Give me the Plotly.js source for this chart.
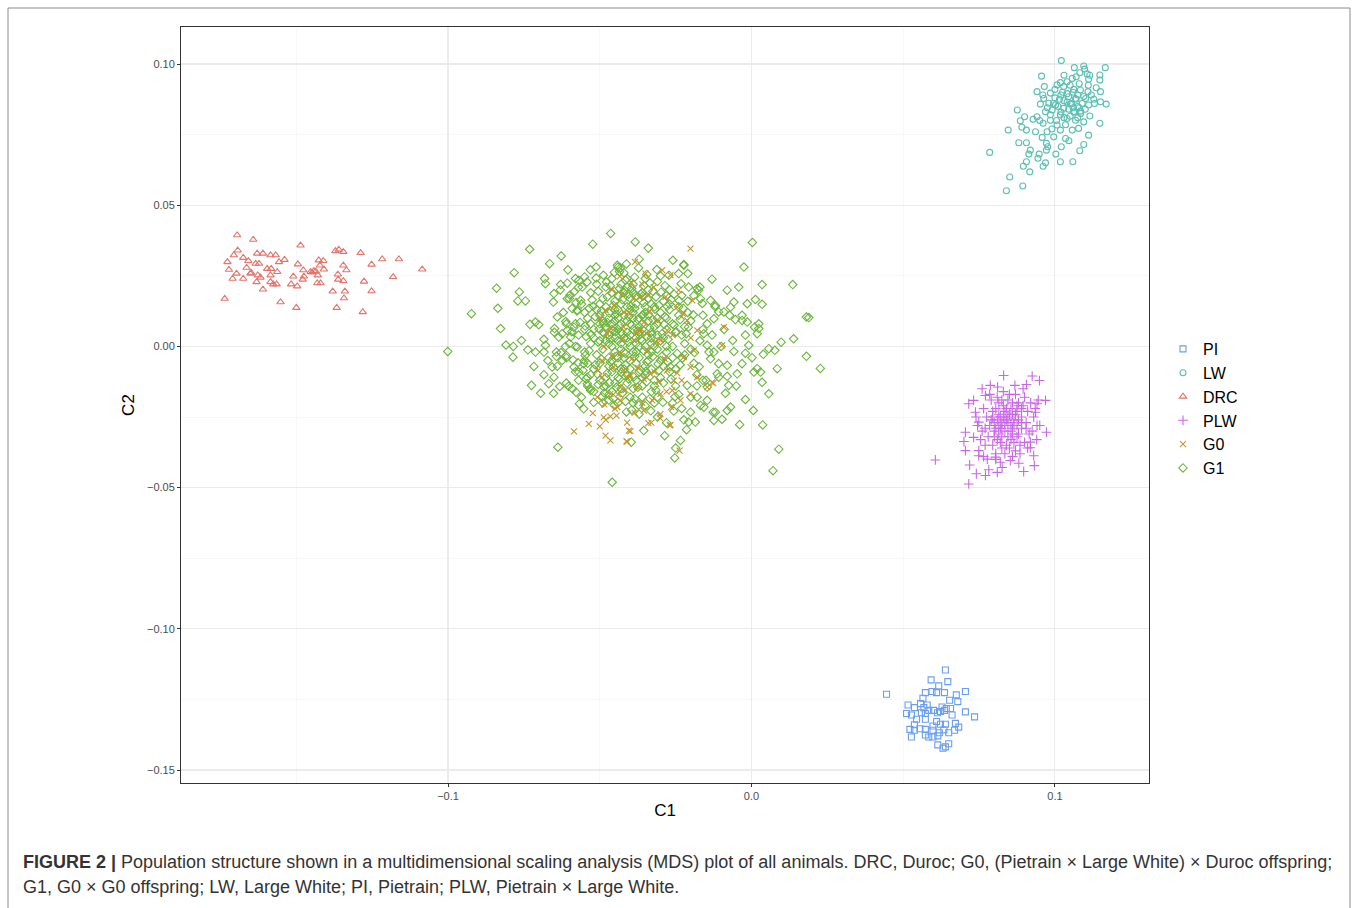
<!DOCTYPE html>
<html>
<head>
<meta charset="utf-8">
<script src="https://cdn.plot.ly/plotly-3.0.1.min.js"></script>
<style>html,body{margin:0;padding:0;background:#fff;}#chart{width:1357px;height:908px;}</style>
</head>
<body>
<div id="chart"></div>
<script>
// ---- Data (C1, C2) ----
const seriesNames = ["PI", "LW", "DRC", "PLW", "G0", "G1"];

const PI = [[0.0639,-0.1146],[0.0592,-0.1181],[0.0647,-0.1187],[0.0617,-0.1202],[0.0445,-0.1232],[0.0573,-0.1226],[0.0595,-0.1222],[0.0610,-0.1226],[0.0636,-0.1226],[0.0705,-0.1222],[0.0675,-0.1234],[0.0565,-0.1246],[0.0653,-0.1253],[0.0680,-0.1258],[0.0516,-0.1270],[0.0557,-0.1265],[0.0579,-0.1270],[0.0537,-0.1279],[0.0568,-0.1279],[0.0628,-0.1277],[0.0642,-0.1282],[0.0656,-0.1282],[0.0584,-0.1289],[0.0600,-0.1289],[0.0623,-0.1293],[0.0560,-0.1297],[0.0573,-0.1300],[0.0511,-0.1300],[0.0527,-0.1305],[0.0613,-0.1297],[0.0636,-0.1289],[0.0705,-0.1294],[0.0661,-0.1305],[0.0735,-0.1312],[0.0544,-0.1320],[0.0573,-0.1320],[0.0610,-0.1328],[0.0623,-0.1338],[0.0537,-0.1340],[0.0598,-0.1344],[0.0639,-0.1338],[0.0672,-0.1335],[0.0683,-0.1348],[0.0522,-0.1356],[0.0537,-0.1359],[0.0555,-0.1354],[0.0573,-0.1356],[0.0598,-0.1359],[0.0634,-0.1358],[0.0669,-0.1359],[0.0619,-0.1368],[0.0573,-0.1376],[0.0584,-0.1383],[0.0598,-0.1383],[0.0614,-0.1379],[0.0527,-0.1383],[0.0650,-0.1368],[0.0614,-0.1411],[0.0631,-0.1423],[0.0639,-0.1418],[0.0650,-0.1407]];

const LW = [[0.1021,0.1012],[0.1064,0.0987],[0.1095,0.0993],[0.1098,0.0982],[0.1166,0.0987],[0.1082,0.0969],[0.1106,0.0965],[0.1148,0.0961],[0.0956,0.0957],[0.1057,0.0949],[0.1111,0.0946],[0.1148,0.0943],[0.1018,0.0934],[0.1040,0.0937],[0.1007,0.0926],[0.1029,0.0920],[0.0965,0.0920],[0.1136,0.0916],[0.1062,0.0910],[0.1084,0.0908],[0.1109,0.0902],[0.0941,0.0902],[0.1150,0.0902],[0.0985,0.0897],[0.1020,0.0890],[0.1045,0.0884],[0.1068,0.0878],[0.1101,0.0878],[0.1128,0.0875],[0.0963,0.0878],[0.1150,0.0866],[0.1169,0.0858],[0.0952,0.0858],[0.0980,0.0861],[0.1002,0.0855],[0.1051,0.0858],[0.1075,0.0849],[0.1111,0.0855],[0.1029,0.0843],[0.0991,0.0837],[0.0969,0.0831],[0.1062,0.0831],[0.1084,0.0833],[0.0876,0.0837],[0.1115,0.0816],[0.1018,0.0820],[0.0941,0.0813],[0.0900,0.0813],[0.0985,0.0801],[0.1040,0.0807],[0.1068,0.0801],[0.1095,0.0795],[0.0886,0.0799],[0.0928,0.0804],[0.0961,0.0790],[0.1007,0.0784],[0.1148,0.0790],[0.0891,0.0776],[0.0906,0.0766],[0.0846,0.0766],[0.0936,0.0760],[0.0974,0.0760],[0.1018,0.0766],[0.1057,0.0766],[0.1078,0.0772],[0.1111,0.0748],[0.0958,0.0740],[0.0996,0.0742],[0.1035,0.0736],[0.1046,0.0728],[0.0881,0.0721],[0.0906,0.0721],[0.0972,0.0719],[0.1095,0.0715],[0.0976,0.0707],[0.1021,0.0707],[0.0785,0.0687],[0.0919,0.0695],[0.0972,0.0695],[0.0948,0.0681],[0.0914,0.0681],[0.1003,0.0681],[0.1082,0.0693],[0.0944,0.0666],[0.0906,0.0654],[0.1018,0.0654],[0.1059,0.0654],[0.0969,0.0650],[0.0896,0.0638],[0.0961,0.0638],[0.0917,0.0618],[0.0851,0.0600],[0.0894,0.0568],[0.0840,0.0551],
[0.1000,0.0880],[0.1030,0.0870],[0.1055,0.0860],[0.1075,0.0890],[0.1010,0.0850],[0.1045,0.0840],[0.1090,0.0860],[0.1065,0.0830],[0.1020,0.0830],[0.0995,0.0860],[0.1040,0.0895],[0.1080,0.0845],[0.1050,0.0815],[0.1030,0.0810],[0.0985,0.0820],[0.1070,0.0875],[0.1060,0.0900],[0.1095,0.0885],[0.1025,0.0900],[0.1005,0.0800],[0.1085,0.0825],[0.1040,0.0865],[0.1060,0.0845],[0.1015,0.0875],[0.1100,0.0840],[0.0975,0.0845],[0.1035,0.0785],[0.1075,0.0810],[0.1000,0.0910],[0.1050,0.0925],[0.1080,0.0930],[0.1110,0.0925],[0.1120,0.0890],[0.1130,0.0860],[0.1115,0.0960],[0.1070,0.0955],[0.1030,0.0960],[0.0960,0.0890],[0.0950,0.0800],[0.0990,0.0770]];

const DRC = [[-0.1695,0.0394],[-0.1642,0.0378],[-0.1486,0.0358],[-0.1693,0.0340],[-0.1706,0.0323],[-0.1629,0.0329],[-0.1610,0.0329],[-0.1585,0.0323],[-0.1568,0.0323],[-0.1539,0.0307],[-0.1675,0.0314],[-0.1658,0.0303],[-0.1727,0.0299],[-0.1557,0.0299],[-0.1634,0.0293],[-0.1623,0.0293],[-0.1664,0.0279],[-0.1596,0.0275],[-0.1583,0.0275],[-0.1722,0.0272],[-0.1495,0.0291],[-0.1563,0.0264],[-0.1651,0.0258],[-0.1697,0.0258],[-0.1627,0.0252],[-0.1585,0.0252],[-0.1618,0.0244],[-0.1710,0.0240],[-0.1675,0.0240],[-0.1631,0.0228],[-0.1585,0.0228],[-0.1576,0.0220],[-0.1565,0.0220],[-0.1517,0.0220],[-0.1497,0.0213],[-0.1510,0.0248],[-0.1477,0.0270],[-0.1475,0.0248],[-0.1610,0.0202],[-0.1736,0.0169],[-0.1552,0.0157],[-0.1500,0.0137],[-0.1453,0.0264],[-0.1442,0.0267],[-0.1448,0.0262],[-0.1436,0.0266],[-0.1426,0.0305],[-0.1411,0.0303],[-0.1422,0.0287],[-0.1409,0.0273],[-0.1429,0.0252],[-0.1431,0.0224],[-0.1420,0.0224],[-0.1371,0.0338],[-0.1360,0.0343],[-0.1345,0.0335],[-0.1288,0.0331],[-0.1345,0.0287],[-0.1335,0.0270],[-0.1363,0.0255],[-0.1362,0.0237],[-0.1345,0.0232],[-0.1277,0.0230],[-0.1380,0.0195],[-0.1340,0.0195],[-0.1343,0.0171],[-0.1367,0.0137],[-0.1281,0.0122],[-0.1252,0.0196],[-0.1252,0.0290],[-0.1217,0.0309],[-0.1181,0.0246],[-0.1162,0.0309],[-0.1085,0.0273],[-0.1479,0.0237],[-0.1649,0.0261]];

const PLW = [[0.0831,-0.0103],[0.0925,-0.0105],[0.0949,-0.0121],[0.0906,-0.0135],[0.0868,-0.0138],[0.0787,-0.0138],[0.0760,-0.0150],[0.0811,-0.0144],[0.0771,-0.0174],[0.0732,-0.0191],[0.0716,-0.0203],[0.0969,-0.0191],[0.0941,-0.0203],[0.0738,-0.0233],[0.0936,-0.0233],[0.0749,-0.0268],[0.0941,-0.0280],[0.0972,-0.0304],[0.0705,-0.0304],[0.0732,-0.0322],[0.0700,-0.0337],[0.0919,-0.0339],[0.0705,-0.0369],[0.0749,-0.0369],[0.0919,-0.0359],[0.0606,-0.0402],[0.0749,-0.0387],[0.0777,-0.0399],[0.0804,-0.0392],[0.0930,-0.0387],[0.0820,-0.0410],[0.0881,-0.0414],[0.0719,-0.0420],[0.0932,-0.0422],[0.0782,-0.0437],[0.0810,-0.0446],[0.0771,-0.0457],[0.0897,-0.0443],[0.0741,-0.0451],[0.0716,-0.0487],[0.0826,-0.0429],[0.0853,-0.0404],
[0.0840,-0.0260],[0.0815,-0.0240],[0.0860,-0.0290],[0.0800,-0.0300],[0.0875,-0.0230],[0.0830,-0.0210],[0.0790,-0.0260],[0.0855,-0.0330],[0.0905,-0.0270],[0.0770,-0.0290],[0.0880,-0.0310],[0.0820,-0.0340],[0.0845,-0.0190],[0.0895,-0.0210],[0.0765,-0.0220],[0.0810,-0.0180],[0.0925,-0.0300],[0.0870,-0.0170],[0.0795,-0.0350],[0.0835,-0.0300],[0.0850,-0.0240],[0.0825,-0.0270],[0.0865,-0.0260],[0.0805,-0.0220],[0.0890,-0.0250],[0.0780,-0.0320],[0.0910,-0.0230],[0.0840,-0.0350],[0.0860,-0.0200],[0.0815,-0.0310],[0.0745,-0.0280],[0.0930,-0.0250],[0.0885,-0.0350],[0.0755,-0.0330],[0.0900,-0.0180],[0.0790,-0.0190],[0.0940,-0.0330],[0.0830,-0.0160],[0.0870,-0.0370],[0.0805,-0.0380],[0.0845,-0.0280],[0.0820,-0.0250],[0.0855,-0.0220],[0.0835,-0.0230],[0.0875,-0.0280],[0.0800,-0.0270],[0.0860,-0.0310],[0.0825,-0.0290],[0.0890,-0.0290],[0.0810,-0.0330],[0.0850,-0.0170],[0.0880,-0.0200],[0.0775,-0.0250],[0.0915,-0.0310],[0.0795,-0.0230],[0.0865,-0.0340],[0.0835,-0.0380],[0.0900,-0.0340],[0.0760,-0.0300],[0.0920,-0.0200],[0.0815,-0.0200],[0.0895,-0.0150],[0.0785,-0.0170],[0.0935,-0.0220],[0.0845,-0.0320],[0.0870,-0.0240],[0.0830,-0.0250],[0.0855,-0.0270],[0.0810,-0.0260],[0.0880,-0.0260],[0.0840,-0.0220],[0.0820,-0.0290],[0.0860,-0.0240],[0.0800,-0.0320],[0.0905,-0.0290],[0.0785,-0.0280],[0.0875,-0.0320],[0.0825,-0.0190],[0.0850,-0.0360],[0.0890,-0.0220],[0.0770,-0.0350],[0.0950,-0.0280],[0.0740,-0.0250],[0.0945,-0.0190],[0.0805,-0.0400],[0.0860,-0.0390],[0.0825,-0.0360],[0.0910,-0.0360],[0.0765,-0.0390],[0.0885,-0.0380],[0.0835,-0.0270],[0.0865,-0.0280],[0.0815,-0.0280],[0.0845,-0.0250],[0.0855,-0.0300],[0.0795,-0.0250],[0.0875,-0.0210],[0.0825,-0.0320],[0.0890,-0.0270],[0.0805,-0.0290]];

const G0 = [[-0.0434,0.0248],[-0.0426,0.0187],[-0.0585,-0.0301],[-0.0536,-0.0274],[-0.0500,-0.0283],[-0.0481,-0.0316],[-0.0465,-0.0333],[-0.0523,-0.0236],[-0.0487,-0.0251],[-0.0465,-0.0248],[-0.0508,-0.0180],[-0.0492,-0.0109],[-0.0492,-0.0050],[-0.0487,-0.0002],[-0.0476,0.0045],[-0.0481,0.0128],[-0.0454,0.0145],[-0.0410,-0.0337],[-0.0404,-0.0298],[-0.0442,-0.0215],[-0.0432,-0.0144],[-0.0421,-0.0085],[-0.0459,-0.0032],[-0.0201,0.0346],[-0.0384,0.0299],[-0.0349,0.0258],[-0.0294,0.0270],[-0.0267,0.0252],[-0.0240,0.0199],[-0.0195,0.0163],[-0.0091,0.0068],[-0.0097,0.0004],[-0.0130,-0.0127],[-0.0237,-0.0369],[-0.0269,-0.0280],[-0.0302,-0.0253],[-0.0340,-0.0272],[-0.0399,-0.0300],[-0.0412,-0.0336],[-0.0355,-0.0227],[-0.0327,-0.0191],[-0.0300,-0.0168],[-0.0261,-0.0156],[-0.0234,-0.0191],[-0.0201,-0.0168],[-0.0179,-0.0109],[-0.0201,-0.0073],[-0.0223,-0.0038],[-0.0190,-0.0014],[-0.0179,0.0057],[-0.0212,0.0092],[-0.0245,0.0139],[-0.0283,0.0175],[-0.0322,0.0210],[-0.0366,0.0175],[-0.0399,0.0116],[-0.0421,0.0068],[-0.0388,0.0021],[-0.0344,-0.0014],[-0.0300,0.0021],[-0.0278,0.0057],[-0.0311,0.0092],[-0.0366,0.0057],[-0.0432,-0.0026],[-0.0454,-0.0073],[-0.0410,-0.0109],[-0.0377,-0.0144],[-0.0333,-0.0097],[-0.0278,-0.0085],[-0.0256,-0.0121],[-0.0465,-0.0168],[-0.0432,-0.0191],[-0.0126,-0.0130],[-0.0146,-0.0144],[-0.0267,-0.0278],
[-0.0400,-0.0100],[-0.0360,-0.0200],[-0.0450,-0.0220],[-0.0300,-0.0240],[-0.0380,0.0050],[-0.0420,0.0120],[-0.0340,0.0180],[-0.0280,-0.0160],[-0.0440,-0.0170],[-0.0320,-0.0090],[-0.0480,-0.0260],[-0.0260,0.0040],[-0.0410,-0.0270],[-0.0360,0.0220],[-0.0500,0.0100],[-0.0230,-0.0120],[-0.0330,-0.0270],[-0.0460,0.0200],[-0.0200,0.0030],[-0.0390,0.0170],
[-0.0395,-0.0045],[-0.0355,0.0085],[-0.0425,0.0025],[-0.0305,-0.0125],[-0.0465,0.0065],[-0.0375,-0.0075],[-0.0335,0.0125],[-0.0285,-0.0045],[-0.0445,-0.0245],[-0.0385,-0.0235],[-0.0315,0.0015],[-0.0245,-0.0095],[-0.0415,-0.0155],[-0.0355,-0.0115],[-0.0485,-0.0205],[-0.0265,-0.0215],[-0.0225,0.0115],[-0.0395,0.0225],[-0.0505,-0.0085],[-0.0345,0.0045]];

const G1 = [
// periphery
[-0.0464,0.0400],[-0.0523,0.0362],[-0.0731,0.0344],[-0.0627,0.0320],[-0.0665,0.0293],[-0.0782,0.0261],[-0.0605,0.0271],[-0.0531,0.0271],[-0.0512,0.0281],[-0.0840,0.0206],[-0.0765,0.0193],[-0.0770,0.0161],[-0.0745,0.0161],[-0.0836,0.0135],[-0.0923,0.0116],[-0.0827,0.0063],[-0.0730,0.0078],[-0.0712,0.0086],[-0.0701,0.0077],[-0.1001,-0.0018],[-0.0809,0.0005],[-0.0785,0.0000],[-0.0786,-0.0038],[-0.0758,0.0021],[-0.0737,-0.0012],[-0.0717,-0.0071],[-0.0712,-0.0020],[-0.0684,0.0025],[-0.0679,0.0004],[-0.0684,-0.0020],[-0.0671,-0.0050],[-0.0657,-0.0073],[-0.0684,-0.0100],[-0.0651,-0.0109],[-0.0668,-0.0132],[-0.0725,-0.0138],[-0.0695,-0.0166],[-0.0652,-0.0166],[-0.0632,-0.0142],[-0.0603,-0.0141],[-0.0578,-0.0162],[-0.0643,-0.0020],[-0.0643,-0.0035],[-0.0624,-0.0050],[-0.0610,-0.0032],[-0.0613,0.0000],[-0.0635,0.0033],[-0.0649,0.0063],[-0.0640,0.0104],[-0.0653,0.0157],[-0.0651,0.0187],[-0.0679,0.0222],[-0.0682,0.0240],[-0.0629,0.0219],[-0.0607,0.0224],[-0.0607,0.0169],[-0.0585,0.0193],[-0.0591,0.0134],[-0.0574,0.0128],[-0.0563,0.0163],[-0.0569,0.0234],[-0.0550,0.0246],[-0.0558,0.0210],[-0.0638,-0.0357],[-0.0459,-0.0481],[-0.0624,0.0045],[-0.0607,0.0057],[-0.0596,0.0033],[-0.0585,0.0068],[-0.0574,-0.0002],[-0.0585,-0.0073],[-0.0569,-0.0091],[-0.0553,-0.0061],[-0.0541,-0.0109],[-0.0541,-0.0132],[-0.0530,-0.0156],[-0.0567,-0.0203],[-0.0553,-0.0221],[-0.0520,-0.0198],[-0.0487,-0.0144],
[-0.0383,0.0370],[-0.0340,0.0348],[-0.0370,0.0309],[-0.0442,0.0287],[-0.0432,0.0278],[-0.0259,0.0305],[-0.0223,0.0290],[-0.0240,0.0258],[-0.0210,0.0258],[0.0003,0.0368],[-0.0025,0.0281],[-0.0130,0.0238],[0.0035,0.0219],[0.0136,0.0219],[-0.0042,0.0210],[-0.0080,0.0199],[0.0013,0.0166],[0.0035,0.0149],[-0.0014,0.0151],[-0.0058,0.0157],[-0.0069,0.0139],[-0.0091,0.0122],[-0.0031,0.0110],[-0.0053,0.0095],[-0.0014,0.0086],[0.0181,0.0104],[0.0189,0.0102],[0.0024,0.0080],[0.0010,0.0068],[0.0024,0.0063],[0.0019,0.0045],[0.0139,0.0027],[0.0098,0.0015],[-0.0062,0.0021],[-0.0009,0.0004],[0.0057,-0.0008],[0.0077,-0.0014],[-0.0058,-0.0018],[-0.0020,-0.0024],[0.0039,-0.0028],[0.0002,-0.0040],[0.0181,-0.0035],[0.0227,-0.0078],[0.0085,-0.0079],[-0.0031,-0.0061],[0.0019,-0.0079],[0.0008,-0.0091],[-0.0047,-0.0097],[-0.0080,-0.0106],[0.0035,-0.0127],[-0.0075,-0.0138],[-0.0086,-0.0166],[0.0057,-0.0168],[-0.0020,-0.0188],[-0.0069,-0.0215],[-0.0080,-0.0227],[0.0006,-0.0227],[-0.0119,-0.0233],[-0.0124,-0.0262],[-0.0097,-0.0258],[-0.0039,-0.0277],[0.0037,-0.0278],[-0.0185,-0.0268],[-0.0207,-0.0268],[-0.0223,-0.0260],[-0.0214,-0.0295],[-0.0286,-0.0316],[-0.0234,-0.0333],[-0.0253,-0.0395],[0.0090,-0.0364],[0.0071,-0.0440],[-0.0396,-0.0339],[-0.0355,-0.0298],[-0.0201,-0.0233],[-0.0168,-0.0209],[-0.0146,-0.0191],[-0.0179,-0.0180],[-0.0146,-0.0144],[-0.0113,-0.0097],[-0.0108,-0.0061],[-0.0124,-0.0020],[-0.0146,0.0004],[-0.0157,0.0045],[-0.0146,0.0080],[-0.0124,0.0098],[-0.0119,0.0145],[-0.0135,0.0163],[-0.0168,0.0169],[-0.0179,0.0205],[-0.0207,0.0210],
[-0.0223,0.0287],[-0.0174,0.0199],[-0.0108,0.0122],[-0.0072,0.0110],[-0.0031,0.0092],[-0.0135,-0.0044],[-0.0080,-0.0067],[0.0030,-0.0091],[-0.0108,-0.0109],[-0.0126,-0.0233],[-0.0157,-0.0215],[-0.0256,-0.0229],[-0.0020,0.0040],[-0.0100,0.0000],[-0.0160,-0.0120],[-0.0050,-0.0140],[-0.0090,0.0060],[-0.0250,-0.0360],[-0.0310,-0.0250],[-0.0280,-0.0270],
// core
[-0.041,0.003],[-0.038,-0.002],[-0.044,0.006],[-0.036,0.008],[-0.047,-0.004],[-0.033,0.001],[-0.042,-0.008],[-0.039,0.012],[-0.050,0.002],[-0.030,-0.005],
[-0.045,0.011],[-0.035,-0.010],[-0.053,0.008],[-0.028,0.006],[-0.040,0.017],[-0.048,-0.011],[-0.032,0.014],[-0.043,-0.015],[-0.055,-0.002],[-0.026,0.000],
[-0.037,0.004],[-0.046,0.000],[-0.034,-0.003],[-0.041,0.009],[-0.049,0.005],[-0.031,0.010],[-0.044,-0.006],[-0.038,-0.012],[-0.052,-0.008],[-0.027,-0.009],
[-0.036,0.019],[-0.045,0.016],[-0.029,0.016],[-0.051,0.013],[-0.024,0.011],[-0.040,-0.018],[-0.033,-0.016],[-0.047,-0.019],[-0.057,0.004],[-0.022,-0.003],
[-0.039,0.022],[-0.048,0.021],[-0.031,0.023],[-0.056,0.015],[-0.021,0.016],[-0.042,0.026],[-0.035,-0.021],[-0.054,-0.014],[-0.025,-0.014],[-0.058,-0.009],
[-0.043,0.001],[-0.037,0.007],[-0.040,-0.005],[-0.046,0.008],[-0.033,0.005],[-0.049,-0.001],[-0.030,0.002],[-0.044,0.013],[-0.035,-0.007],[-0.052,0.003],
[-0.028,-0.002],[-0.041,-0.010],[-0.038,0.015],[-0.047,0.004],[-0.032,-0.012],[-0.054,0.010],[-0.026,0.008],[-0.045,-0.013],[-0.036,0.011],[-0.050,-0.006],
[-0.023,0.004],[-0.042,0.019],[-0.034,0.017],[-0.048,0.014],[-0.029,-0.007],[-0.055,0.006],[-0.020,0.009],[-0.039,-0.015],[-0.044,-0.020],[-0.031,-0.018],
[-0.060,0.001],[-0.019,-0.006],[-0.046,0.024],[-0.027,0.020],[-0.053,0.019],[-0.037,-0.024],[-0.024,-0.017],[-0.057,-0.012],[-0.017,0.002],[-0.041,0.024],
[-0.040,0.000],[-0.043,0.005],[-0.036,0.002],[-0.038,-0.006],[-0.045,-0.002],[-0.034,0.009],[-0.047,0.010],[-0.031,-0.001],[-0.042,-0.004],[-0.039,0.006],
[-0.051,-0.003],[-0.029,0.003],[-0.044,0.002],[-0.035,0.012],[-0.048,0.007],[-0.032,0.007],[-0.043,-0.008],[-0.037,-0.009],[-0.053,0.001],[-0.025,0.005],
[-0.046,-0.009],[-0.033,-0.008],[-0.050,0.011],[-0.027,0.013],[-0.040,0.013],[-0.044,0.018],[-0.030,-0.011],[-0.055,-0.005],[-0.022,0.001],[-0.041,-0.013],
[-0.035,0.024],[-0.049,0.017],[-0.028,0.018],[-0.058,0.008],[-0.021,0.012],[-0.046,-0.016],[-0.032,-0.020],[-0.052,-0.016],[-0.018,-0.010],[-0.061,-0.004],
[-0.042,0.011],[-0.037,0.000],[-0.045,0.003],[-0.034,-0.005],[-0.040,0.008],[-0.047,-0.007],[-0.030,0.012],[-0.043,0.015],[-0.036,-0.014],[-0.050,0.008],
[-0.026,-0.004],[-0.039,0.019],[-0.048,0.002],[-0.033,0.015],[-0.044,-0.011],[-0.038,0.003],[-0.053,-0.010],[-0.024,0.014],[-0.041,0.005],[-0.035,0.000],
[-0.016,0.006],[-0.014,-0.002],[-0.019,0.018],[-0.015,-0.012],[-0.020,-0.018],[-0.012,0.014],[-0.017,0.021],[-0.023,-0.022],[-0.013,0.004],[-0.018,-0.014],
[-0.062,0.012],[-0.059,-0.015],[-0.063,0.020],[-0.060,0.017],[-0.064,-0.007],[-0.058,0.024],[-0.061,-0.013],[-0.056,-0.018],[-0.065,0.005],[-0.057,0.021],
[-0.039,0.010],[-0.045,0.013],[-0.033,0.003],[-0.042,-0.002],[-0.037,-0.004],[-0.049,0.009],[-0.031,0.008],[-0.046,0.006],[-0.040,-0.008],[-0.035,0.014],
[-0.052,0.006],[-0.028,0.010],[-0.044,-0.004],[-0.038,0.018],[-0.048,-0.014],[-0.032,-0.014],[-0.055,0.012],[-0.025,-0.008],[-0.041,0.021],[-0.036,-0.018],
[-0.050,0.015],[-0.027,0.015],[-0.046,0.019],[-0.029,-0.013],[-0.054,-0.006],[-0.022,0.007],[-0.043,0.008],[-0.034,0.020],[-0.047,-0.017],[-0.039,-0.020],
[-0.020,-0.001],[-0.058,0.000],[-0.023,0.018],[-0.051,0.022],[-0.030,0.025],[-0.044,0.028],[-0.026,-0.020],[-0.049,-0.020],[-0.016,0.011],[-0.061,0.008],
[-0.040,0.004],[-0.036,0.006],[-0.043,-0.001],[-0.038,0.001],[-0.045,0.009],[-0.033,-0.002],[-0.041,0.014],[-0.047,0.001],[-0.031,0.004],[-0.037,0.010],
[-0.034,0.011],[-0.042,0.003],[-0.039,-0.002],[-0.046,-0.005],[-0.032,0.000],[-0.044,0.010],[-0.036,-0.011],[-0.050,-0.012],[-0.028,0.000],[-0.043,0.022],
[-0.0405,0.0015],[-0.0375,0.0055],[-0.0435,0.0075],[-0.0355,-0.0015],[-0.0465,0.0025],[-0.0325,0.0095],[-0.0415,-0.0065],[-0.0385,0.0135],[-0.0495,-0.0045],[-0.0295,0.0045],
[-0.0455,0.0145],[-0.0345,-0.0125],[-0.0515,0.0105],[-0.0275,-0.0055],[-0.0395,0.0205],[-0.0475,-0.0095],[-0.0315,0.0175],[-0.0425,-0.0165],[-0.0535,-0.0015],[-0.0255,0.0075],
[-0.0365,0.0025],[-0.0445,-0.0035],[-0.0335,0.0065],[-0.0405,0.0105],[-0.0485,0.0045],[-0.0305,-0.0085],[-0.0435,-0.0115],[-0.0375,-0.0145],[-0.0525,0.0165],[-0.0265,0.0165],
[-0.0355,0.0215],[-0.0455,-0.0185],[-0.0285,0.0215],[-0.0505,-0.0135],[-0.0235,-0.0065],[-0.0415,0.0235],[-0.0345,0.0255],[-0.0545,0.0035],[-0.0225,0.0135],[-0.0395,-0.0225],
[-0.0385,-0.0035],[-0.0425,0.0045],[-0.0345,0.0035],[-0.0395,0.0075],[-0.0465,-0.0055],[-0.0325,-0.0035],[-0.0445,0.0115],[-0.0365,-0.0085],[-0.0505,0.0015],[-0.0285,0.0105],
[-0.0475,0.0175],[-0.0315,-0.0155],[-0.0535,0.0135],[-0.0245,-0.0025],[-0.0405,0.0185],[-0.0485,-0.0165],[-0.0335,0.0225],[-0.0435,0.0205],[-0.0565,0.0085],[-0.0215,0.0045],
[-0.0375,0.0095],[-0.0455,0.0055],[-0.0355,0.0155],[-0.0415,-0.0025],[-0.0495,0.0125],[-0.0305,0.0145],[-0.0445,-0.0145],[-0.0385,-0.0185],[-0.0555,-0.0085],[-0.0265,-0.0115],
[-0.0425,0.0165],[-0.0365,0.0185],[-0.0475,0.0085],[-0.0325,0.0195],[-0.0515,-0.0065],[-0.0295,-0.0035],[-0.0455,-0.0075],[-0.0345,-0.0055],[-0.0405,-0.0115],[-0.0385,0.0245],
[-0.0435,0.0265],[-0.0505,0.0195],[-0.0275,0.0025],[-0.0545,-0.0115],[-0.0235,0.0095],[-0.0415,-0.0195],[-0.0335,-0.0185],[-0.0465,0.0215],[-0.0255,0.0185],[-0.0575,0.0125],
[-0.0598,0.0182],[-0.0542,0.0228],[-0.0488,0.0252],[-0.0612,0.0088],[-0.0578,0.0155],[-0.0522,0.0142],[-0.0468,0.0118],[-0.0592,0.0052],[-0.0548,0.0072],[-0.0502,0.0062],
[-0.0438,0.0178],[-0.0398,0.0142],[-0.0358,0.0112],[-0.0318,0.0132],[-0.0278,0.0142],[-0.0238,0.0162],[-0.0298,0.0192],[-0.0358,0.0178],[-0.0418,0.0198],[-0.0478,0.0228],
[-0.0628,-0.0022],[-0.0588,-0.0048],[-0.0548,-0.0032],[-0.0508,-0.0098],[-0.0468,-0.0128],[-0.0428,-0.0092],[-0.0388,-0.0108],[-0.0348,-0.0088],[-0.0308,-0.0062],[-0.0268,-0.0072],
[-0.0228,-0.0042],[-0.0188,-0.0022],[-0.0208,0.0068],[-0.0248,0.0052],[-0.0288,0.0078],[-0.0328,0.0042],[-0.0368,0.0052],[-0.0448,0.0052],[-0.0488,0.0082],[-0.0528,0.0042],
[-0.0572,-0.0058],[-0.0532,-0.0148],[-0.0492,-0.0178],[-0.0452,-0.0208],[-0.0412,-0.0232],[-0.0372,-0.0208],[-0.0332,-0.0228],[-0.0292,-0.0198],[-0.0252,-0.0178],[-0.0212,-0.0138],
[-0.0172,-0.0072],[-0.0162,0.0152],[-0.0192,0.0112],[-0.0232,0.0222],[-0.0272,0.0252],[-0.0312,0.0272],[-0.0372,0.0278],[-0.0412,0.0292],[-0.0452,0.0262],[-0.0512,0.0242]];

const seriesData = {PI: PI, LW: LW, DRC: DRC, PLW: PLW, G0: G0, G1: G1};
const seriesColors = {PI: "#6A9EF0", LW: "#5DBFB4", DRC: "#E5736B", PLW: "#C966E8", G0: "#C4952C", G1: "#6BB53D"};
const seriesSymbols = {PI: "square-open", LW: "circle-open", DRC: "triangle-up-open", PLW: "cross-thin-open", G0: "x-thin-open", G1: "diamond-open"};
const seriesSizes = {PI: 6, LW: 6, DRC: 6.5, PLW: 7, G0: 6, G1: 6.5};
const drawOrder = ["PI", "LW", "DRC", "PLW", "G1", "G0"];

const traces = drawOrder.map(function (name) {
  const pts = seriesData[name];
  return {
    type: "scatter",
    mode: "markers",
    name: name,
    legendrank: seriesNames.indexOf(name) + 1,
    x: pts.map(function (p) { return p[0]; }),
    y: pts.map(function (p) { return p[1]; }),
    marker: {symbol: seriesSymbols[name], size: seriesSizes[name], color: seriesColors[name],
             line: {width: 1.1, color: seriesColors[name]}},
    hoverinfo: "skip"
  };
});

// px -> paper helpers for decoration placement only
const L = 181, R = 1149, T = 27, B = 783;
function px(x) { return (x - L) / (R - L); }
function py(y) { return (B - y) / (B - T); }

const layout = {
  width: 1357, height: 908,
  margin: {l: L, r: 1357 - R, t: T, b: 908 - B},
  paper_bgcolor: "#ffffff", plot_bgcolor: "#ffffff",
  font: {family: "Liberation Sans, Arial, sans-serif", color: "#000"},
  showlegend: true,
  legend: {x: px(1163), y: py(332), xanchor: "left", yanchor: "top", font: {size: 16, color: "#000"},
           tracegroupgap: 0, itemwidth: 30, bgcolor: "rgba(0,0,0,0)"},
  xaxis: {
    range: [-0.188, 0.131], tickmode: "array", tickvals: [-0.1, 0, 0.1], ticktext: ["\u22120.1", "0.0", "0.1"],
    showgrid: true, gridcolor: "#EBEBEB", gridwidth: 1.1, zeroline: false,
    minor: {tickvals: [-0.15, -0.05, 0.05], showgrid: true, gridcolor: "#F3F3F3", gridwidth: 0.6, ticks: ""},
    showline: true, mirror: true, linecolor: "#333333", linewidth: 1,
    ticks: "outside", ticklen: 3, tickcolor: "#333333", tickwidth: 1,
    tickfont: {size: 11, color: "#4D4D4D"},
    title: {text: "C1", font: {size: 17, color: "#000"}, standoff: 2}
  },
  yaxis: {
    range: [-0.1546, 0.1131], tickmode: "array", tickvals: [-0.15, -0.1, -0.05, 0, 0.05, 0.1],
    ticktext: ["\u22120.15", "\u22120.10", "\u22120.05", "0.00", "0.05", "0.10"],
    showgrid: true, gridcolor: "#EBEBEB", gridwidth: 1.1, zeroline: false,
    minor: {tickvals: [-0.125, -0.075, -0.025, 0.025, 0.075], showgrid: true, gridcolor: "#F3F3F3", gridwidth: 0.6, ticks: ""},
    showline: true, mirror: true, linecolor: "#333333", linewidth: 1,
    ticks: "outside", ticklen: 3, tickcolor: "#333333", tickwidth: 1,
    tickfont: {size: 11, color: "#4D4D4D"},
    title: {text: "C2", font: {size: 17, color: "#000"}, standoff: 8}
  },
  shapes: [
    {type: "rect", xref: "paper", yref: "paper", x0: px(8), x1: px(1350), y0: py(8), y1: py(940),
     line: {color: "#8A8A8A", width: 1}, fillcolor: "rgba(0,0,0,0)", layer: "below"}
  ],
  annotations: [
    {xref: "paper", yref: "paper", x: px(21), y: py(862), xanchor: "left", yanchor: "middle", showarrow: false, align: "left",
     font: {size: 18, color: "#333333", family: "Liberation Sans, Arial, sans-serif"},
     text: "<b>FIGURE 2 |</b> Population structure shown in a multidimensional scaling analysis (MDS) plot of all animals. DRC, Duroc; G0, (Pietrain \u00d7 Large White) \u00d7 Duroc offspring;"},
    {xref: "paper", yref: "paper", x: px(21), y: py(887), xanchor: "left", yanchor: "middle", showarrow: false, align: "left",
     font: {size: 18, color: "#333333", family: "Liberation Sans, Arial, sans-serif"},
     text: "G1, G0 \u00d7 G0 offspring; LW, Large White; PI, Pietrain; PLW, Pietrain \u00d7 Large White."}
  ]
};

Plotly.newPlot("chart", traces, layout, {displayModeBar: false, staticPlot: true});
</script>
</body>
</html>
